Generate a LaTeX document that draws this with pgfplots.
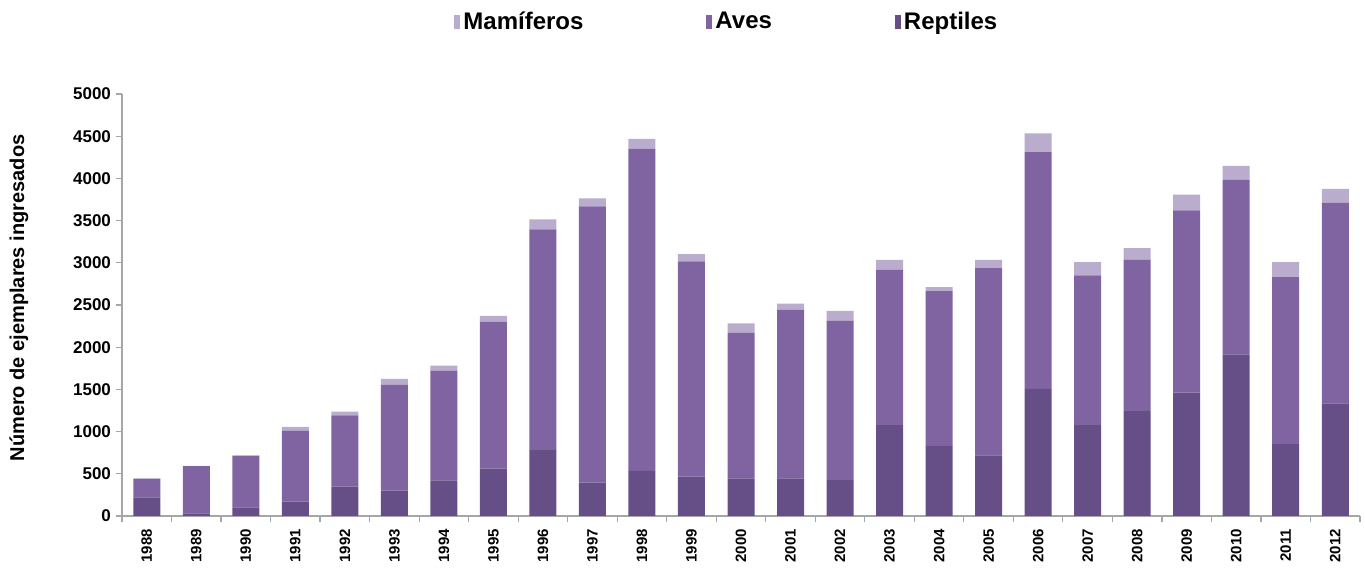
\documentclass[border=0pt]{standalone}
\usepackage{fontspec}
\setmainfont{Liberation Sans}
\usepackage{pgfplots}
\usepackage{pgfplotstable}
\pgfplotsset{compat=1.18}
\definecolor{mam}{HTML}{B9ACCC}
\definecolor{ave}{HTML}{8064A2}
\definecolor{rep}{HTML}{664F87}
\definecolor{axgray}{HTML}{A6A6A6}
\pgfplotstableread{
idx year R A M
0 1988 220 220 5
1 1989 30 560 5
2 1990 103 610 5
3 1991 170 840 45
4 1992 347 844 47
5 1993 300 1257 68
6 1994 422 1297 63
7 1995 560 1743 67
8 1996 781 2614 118
9 1997 394 3273 95
10 1998 536 3817 114
11 1999 465 2551 87
12 2000 446 1723 114
13 2001 446 1999 71
14 2002 426 1885 118
15 2003 1076 1842 118
16 2004 832 1833 48
17 2005 718 2220 98
18 2006 1506 2804 224
19 2007 1076 1775 158
20 2008 1242 1794 138
21 2009 1463 2157 189
22 2010 1916 2070 162
23 2011 852 1979 178
24 2012 1333 2381 162
}\datatable
\begin{document}
\begin{tikzpicture}
\useasboundingbox (0,0) rectangle (682.5pt,286pt);
\begin{axis}[
  at={(61pt,28pt)}, anchor=south west,
  scale only axis, width=619pt, height=211pt,
  ybar stacked, bar width=13.5pt,
  xmin=-0.5, xmax=24.5, ymin=0, ymax=5000,
  axis x line*=bottom, axis y line*=left,
  axis line style={axgray, line width=0.6pt},
  xtick={0,...,24},
  xticklabels={1988,1989,1990,1991,1992,1993,1994,1995,1996,1997,1998,1999,2000,2001,2002,2003,2004,2005,2006,2007,2008,2009,2010,2011,2012},
  major x tick style={draw=none},
  minor xtick={-0.5,0.5,...,24.5},
  minor tick style={axgray, line width=0.6pt},
  minor tick length=3pt,
  ytick={0,500,...,5000},
  major tick length=3pt,
  y tick style={axgray, line width=0.6pt},
  tick align=outside,
  /pgf/number format/assume math mode=true,
  /pgf/number format/1000 sep={},
  yticklabel style={font=\bfseries\fontsize{8.5}{9}\selectfont, xshift=1pt},
  xticklabel style={rotate=90, anchor=east, font=\bfseries\fontsize{7.5}{8}\selectfont, yshift=0pt},
  reverse legend,
  legend columns=3,
  legend image code/.code={\fill[#1] (0pt,-3.5pt) rectangle (3pt,3.5pt);},
  legend style={draw=none, fill=none, at={(axis description cs:0.489,1.1706)}, anchor=center,
    font=\bfseries\fontsize{12}{13}\selectfont,
    nodes={inner xsep=1.5pt},
    /tikz/every even column/.append style={column sep=60pt}},
]
\addplot[fill=rep, draw=none] table[x=idx, y=R] {\datatable};
\addplot[fill=ave, draw=none] table[x=idx, y=A] {\datatable};
\addplot[fill=mam, draw=none] table[x=idx, y=M] {\datatable};
\legend{Reptiles, Aves, Mamíferos}
\end{axis}
\node[rotate=90, font=\bfseries\fontsize{10}{11}\selectfont] at (9.5pt,137pt) {Número de ejemplares ingresados};
\end{tikzpicture}
\end{document}
